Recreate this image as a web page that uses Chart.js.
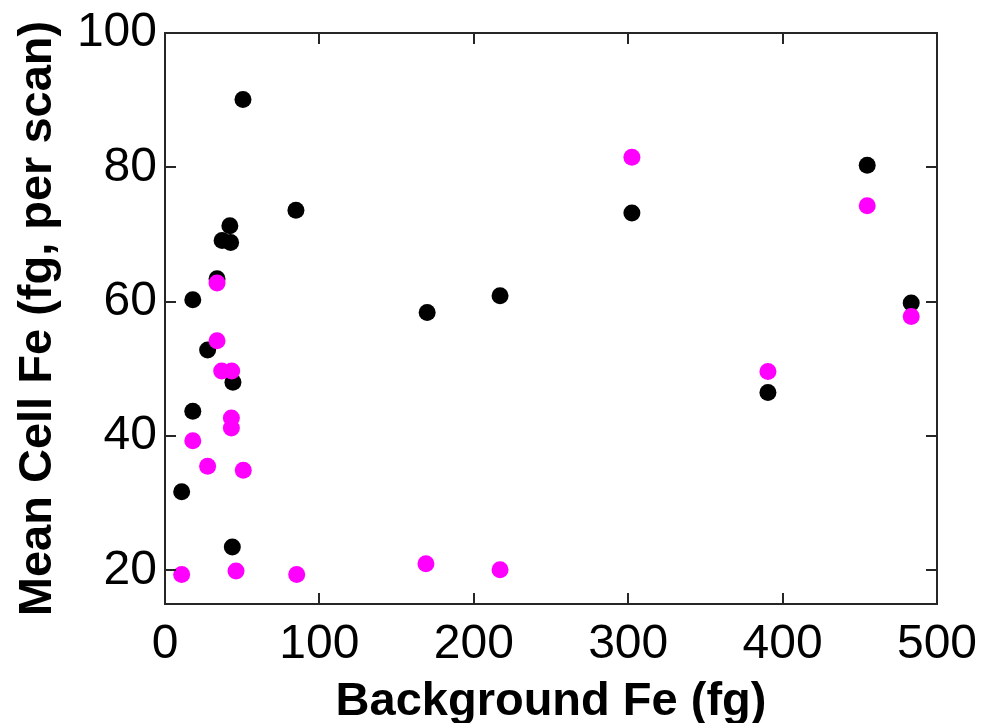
<!DOCTYPE html>
<html>
<head>
<meta charset="utf-8">
<script src="https://cdn.jsdelivr.net/npm/chart.js@4/dist/chart.umd.min.js"></script>
<style>
  html, body { margin: 0; padding: 0; background: #fff; }
  #wrap { width: 984px; height: 723px; position: relative; }
</style>
</head>
<body>
<div id="wrap"><canvas id="scatter"></canvas></div>
<script>
// Background Fe (fg) vs mean cell Fe (fg, per scan)
const blackX = [10.8, 18, 18, 27.6, 33.7, 37, 42, 42.5, 44, 43.6, 50.5, 84.8, 169.8, 217, 302.4, 390.5, 454.8, 483.3];
const blackY = [31.7, 60.3, 43.7, 52.8, 63.4, 69.1, 71.3, 68.8, 48.0, 23.5, 90.1, 73.6, 58.4, 60.9, 73.2, 46.5, 80.3, 59.8];

const magentaX = [10.8, 18, 27.6, 33.7, 33.7, 36.7, 43.2, 43, 43, 46, 50.7, 85.3, 169, 217, 302.4, 390.5, 454.8, 483.3];
const magentaY = [19.4, 39.3, 35.5, 62.8, 54.2, 49.7, 49.7, 42.7, 41.2, 19.9, 34.9, 19.4, 21.0, 20.1, 81.5, 49.6, 74.3, 57.8];

const xTicks = [0, 100, 200, 300, 400, 500];
const yTicks = [20, 40, 60, 80, 100];

const FONT = "'Liberation Sans', Arial, Helvetica, sans-serif";

const pts = (xs, ys) => xs.map((x, i) => ({ x, y: ys[i] }));

// matlab style box with inward ticks
const boxPlugin = {
  id: 'box',
  afterDraw(chart) {
    const { ctx, chartArea: a, scales } = chart;
    const len = 11;
    ctx.save();
    ctx.strokeStyle = '#262626';
    ctx.lineWidth = 2;
    ctx.strokeRect(a.left, a.top, a.right - a.left, a.bottom - a.top);
    ctx.beginPath();
    xTicks.forEach(v => {
      const px = Math.round(scales.x.getPixelForValue(v));
      ctx.moveTo(px, a.bottom); ctx.lineTo(px, a.bottom - len);
      ctx.moveTo(px, a.top); ctx.lineTo(px, a.top + len);
    });
    yTicks.forEach(v => {
      const py = Math.round(scales.y.getPixelForValue(v));
      ctx.moveTo(a.left, py); ctx.lineTo(a.left + len, py);
      ctx.moveTo(a.right, py); ctx.lineTo(a.right - len, py);
    });
    ctx.stroke();
    ctx.restore();
  }
};

new Chart(document.getElementById('scatter'), {
  type: 'scatter',
  data: {
    datasets: [
      { label: 'black', data: pts(blackX, blackY), backgroundColor: '#000000', pointRadius: 8.5, pointBorderWidth: 0, order: 2 },
      { label: 'magenta', data: pts(magentaX, magentaY), backgroundColor: '#ff00ff', pointRadius: 8.5, pointBorderWidth: 0, order: 1 }
    ]
  },
  options: {
    responsive: true,
    maintainAspectRatio: false,
    animation: false,
    layout: { padding: { top: 33, right: 47, left: 0, bottom: 0 } },
    plugins: { legend: { display: false }, tooltip: { enabled: false } },
    scales: {
      x: {
        type: 'linear', min: 0, max: 500,
        grid: { display: false, drawTicks: false },
        border: { display: false },
        afterBuildTicks: s => { s.ticks = xTicks.map(v => ({ value: v })); },
        afterFit: s => { s.height = 119; s.paddingLeft = 0; s.paddingRight = 0; },
        ticks: { color: '#000', padding: 12, maxRotation: 0, font: { family: FONT, size: 48 } },
        title: { display: true, text: 'Background Fe (fg)', color: '#000', padding: { top: 0, bottom: 0 },
                 font: { family: FONT, size: 47, weight: 'bold', lineHeight: 0.9 } }
      },
      y: {
        type: 'linear', min: 15, max: 100,
        grid: { display: false, drawTicks: false },
        border: { display: false },
        afterBuildTicks: s => { s.ticks = yTicks.map(v => ({ value: v })); },
        afterFit: s => { s.width = 165; s.paddingTop = 0; s.paddingBottom = 0; },
        ticks: { color: '#000', padding: 8, font: { family: FONT, size: 48 } },
        title: { display: true, text: 'Mean Cell Fe (fg, per scan)', color: '#000', padding: { top: 10, bottom: 0 },
                 font: { family: FONT, size: 47, weight: 'bold', lineHeight: 1.2 } }
      }
    }
  },
  plugins: [boxPlugin]
});
</script>
</body>
</html>
